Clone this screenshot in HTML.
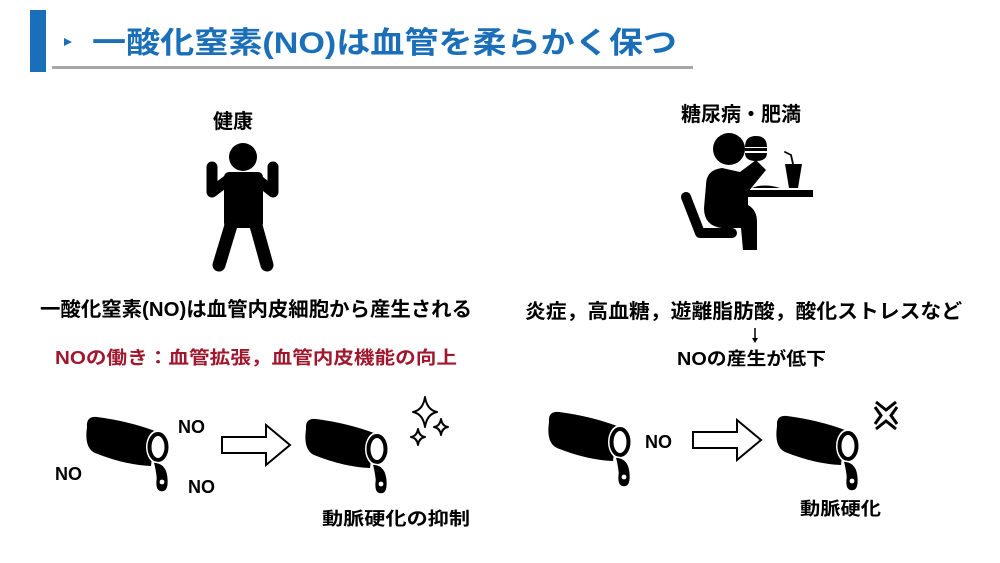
<!DOCTYPE html>
<html><head><meta charset="utf-8"><style>
html,body{margin:0;padding:0;background:#fff;}
svg{display:block;}
text{font-family:"Liberation Sans","Noto Sans CJK JP",sans-serif;font-weight:bold;}
</style></head><body>
<svg width="1000" height="563" viewBox="0 0 1000 563" xmlns="http://www.w3.org/2000/svg">
<defs>
<g id="pipe">
<path d="M4,14 Q3,3 14,4 Q45,8 72,18 L68,53 Q42,52 12,40 Q1,35 4,14 Z" fill="#000"/>
<ellipse cx="75" cy="34" rx="12" ry="17" fill="#fff"/>
<ellipse cx="75" cy="34" rx="8.5" ry="13" fill="#fff" stroke="#000" stroke-width="4"/>
<path d="M70,49 Q83,49 85,63 Q87,79 79,79 Q71,79 73,65 Q72,56 70,49 Z" fill="#000" stroke="#fff" stroke-width="1.5"/>
<circle cx="79" cy="69" r="2.4" fill="#fff"/>
</g>
<g id="harrow">
<path d="M0,12 L44,12 L44,0 L68,20 L44,40 L44,28 L0,28 Z" fill="#fff" stroke="#000" stroke-width="2"/>
</g>
</defs>

<rect x="30" y="10" width="16" height="62" fill="#1a6fb8"/>
<path d="M64,38 L72,42 L64,46 Z" fill="#1a6fb8"/>
<text x="92" y="53" font-size="30" fill="#1a6fb8" textLength="585" lengthAdjust="spacingAndGlyphs">一酸化窒素(NO)は血管を柔らかく保つ</text>
<rect x="52" y="66" width="641" height="3" fill="#a6a6a6"/>

<text x="233" y="128" font-size="20" text-anchor="middle">健康</text>
<g fill="#000" stroke="#000" stroke-linecap="round" stroke-linejoin="round">
<circle cx="243" cy="157" r="14" stroke="none"/>
<rect x="224" y="172" width="39" height="56" rx="5" stroke="none"/>
<path d="M212,167 L212,192 L228,180" fill="none" stroke-width="11"/>
<path d="M273,167 L273,192 L258,180" fill="none" stroke-width="11"/>
<path d="M232,222 L219,265" fill="none" stroke-width="13"/>
<path d="M255,222 L267,265" fill="none" stroke-width="13"/>
</g>

<text x="741" y="121" font-size="20" text-anchor="middle">糖尿病・肥満</text>
<g fill="#000" stroke="#000" stroke-linecap="round" stroke-linejoin="round">
<circle cx="729" cy="149" r="16" stroke="none"/>
<path d="M745,147 Q745,136 756,136 Q767,136 767,147 Z" stroke="none"/>
<rect x="745" y="148" width="22" height="3" stroke="none"/>
<path d="M745,153 L767,153 Q767,161 756,161 Q745,161 745,153 Z" stroke="none"/>
<path d="M706,185 Q706,170 722,168 L740,172 L756,160 L766,170 L748,192 L748,205 Q757,210 757,222 L757,250 L743,250 L741,228 L722,228 Q704,226 704,208 Z" stroke="none"/>
<path d="M686,197 L700,233 L732,233" fill="none" stroke-width="10"/>
<rect x="745" y="190" width="68" height="7" stroke="none"/>
<path d="M752,188 Q764,183 780,188 Z" stroke="none"/>
<path d="M785,164 L802,164 L798,188 L789,188 Z" stroke="none"/>
<path d="M793,164 L791,155 L785,152" fill="none" stroke-width="1.8"/>
</g>

<text x="40" y="316" font-size="20" textLength="432" lengthAdjust="spacingAndGlyphs">一酸化窒素(NO)は血管内皮細胞から産生される</text>
<text x="55" y="364" font-size="18" fill="#a0182e" textLength="402" lengthAdjust="spacingAndGlyphs">NOの働き：血管拡張，血管内皮機能の向上</text>

<text x="525" y="318" font-size="20" textLength="437" lengthAdjust="spacingAndGlyphs">炎症，高血糖，遊離脂肪酸，酸化ストレスなど</text>
<path d="M755,328 L755,340" stroke="#000" stroke-width="1.5"/>
<path d="M752,338 L755,343 L758,338 Z" fill="#000"/>
<text x="677" y="365" font-size="18" textLength="149" lengthAdjust="spacingAndGlyphs">NOの産生が低下</text>

<use href="#pipe" x="83" y="413"/>
<text x="178" y="433" font-size="18">NO</text>
<text x="55" y="480" font-size="18">NO</text>
<text x="188" y="493" font-size="18">NO</text>
<use href="#harrow" x="222" y="425"/>
<use href="#pipe" x="302" y="415"/>
<g fill="#fff" stroke="#000" stroke-width="2" stroke-linejoin="round">
<path d="M425,397 Q427,410 437,412 Q427,414 425,427 Q423,414 413,412 Q423,410 425,397 Z"/>
<path d="M441,419 Q442,426 448,427 Q442,428 441,435 Q440,428 434,427 Q440,426 441,419 Z"/>
<path d="M418,429 Q419,436 425,437 Q419,438 418,445 Q417,438 411,437 Q417,436 418,429 Z"/>
</g>
<text x="322" y="525" font-size="18" textLength="148" lengthAdjust="spacingAndGlyphs">動脈硬化の抑制</text>

<use href="#pipe" x="545" y="408"/>
<text x="645" y="448" font-size="18">NO</text>
<use href="#harrow" x="693" y="420"/>
<use href="#pipe" x="773" y="412"/>
<g stroke="#000" stroke-width="3" fill="none">
<path d="M876,402 L886,410 L896,402"/>
<path d="M876,429 L886,421 L896,429"/>
<path d="M875,407 L881,415.5 L875,424"/>
<path d="M897,407 L891,415.5 L897,424"/>
</g>
<text x="800" y="515" font-size="18" textLength="81" lengthAdjust="spacingAndGlyphs">動脈硬化</text>
</svg>
</body></html>
